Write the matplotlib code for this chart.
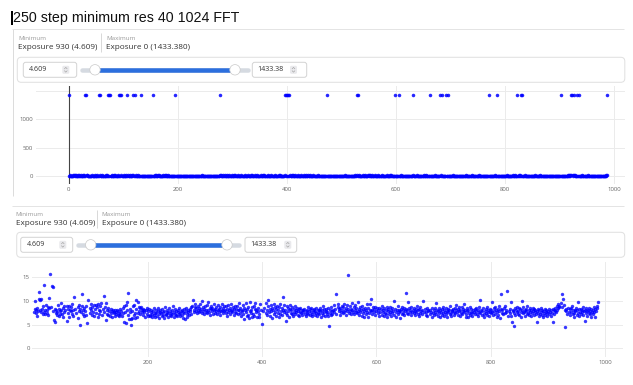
import matplotlib
matplotlib.use('Agg')
import matplotlib.pyplot as plt
import numpy as np
from matplotlib.patches import FancyBboxPatch, Circle, Rectangle

# ---------------- data: exposure values by index (0..988) ----------------
exp_000 = [1433.38, 7.6, 8.3, 9.9, 7.4, 8.1, 6.8, 8.6, 7.9, 11.9,
           10.4, 8.2, 10.3, 10.5, 7.7, 8.4, 7.3, 8.9, 7.6, 13.4,
           8.1, 7.2, 9.1, 8.0, 7.5, 8.7, 7.1, 10.7, 8.5, 15.7,
           1432.9, 8.8, 1433.1, 13.2, 13.0, 7.9, 6.0, 5.5, 8.3, 7.4,
           8.0, 7.0, 7.6, 9.2, 6.9, 8.4, 7.2, 7.8, 9.6, 8.1,
           7.3, 8.6, 6.7, 9.0, 7.7, 1432.7, 8.2, 1433.0, 8.9, 5.8,
           7.5, 8.4, 9.0, 6.6, 8.1, 7.9, 8.8, 7.2, 9.3, 8.0,
           6.8, 10.9, 1432.8, 8.3, 1433.2, 7.4, 1432.6, 8.7, 6.5, 7.9,
           9.2, 4.9, 8.4, 7.6, 8.9, 11.4, 7.3, 8.1, 6.9, 8.5,
           7.8, 9.0, 7.1, 1433.1, 5.3, 1432.9, 10.3, 1432.5, 8.6, 7.4]
exp_100 = [8.2, 9.4, 7.0, 8.8, 7.7, 9.1, 6.9, 8.3, 1433.0, 9.2,
           7.5, 8.7, 6.6, 9.3, 8.0, 7.2, 8.9, 7.8, 9.5, 1432.8,
           7.1, 1433.2, 8.4, 11.0, 7.6, 8.8, 6.0, 9.6, 7.3, 8.2,
           7.0, 8.6, 7.9, 1432.7, 6.8, 8.4, 7.5, 7.9, 6.7, 8.1,
           7.4, 7.7, 6.9, 8.0, 7.6, 7.3, 8.2, 7.1, 7.8, 6.8,
           7.5, 8.3, 7.2, 7.9, 1433.1, 6.9, 8.6, 7.4, 5.6, 8.9,
           7.7, 9.2, 5.4, 8.1, 9.7, 11.7, 7.0, 6.3, 8.4, 7.6,
           6.2, 4.9, 7.8, 6.5, 8.9, 7.1, 9.1, 6.4, 7.5, 10.2,
           8.3, 6.6, 9.8, 7.4, 8.7, 7.9, 8.5, 7.2, 8.8, 8.1,
           7.6, 8.4, 7.0, 8.2, 7.7, 6.7, 1432.9, 8.0, 7.3, 8.6]
exp_200 = [6.9, 7.8, 8.4, 7.1, 6.8, 7.6, 8.2, 7.3, 6.6, 7.9,
           8.5, 7.0, 7.4, 6.7, 8.1, 7.5, 6.9, 7.8, 8.6, 7.2,
           6.5, 7.7, 8.0, 7.4, 6.9, 8.3, 7.6, 7.1, 6.4, 7.9,
           8.8, 7.3, 7.0, 8.2, 7.6, 6.7, 7.4, 8.5, 7.8, 7.1,
           6.8, 7.5, 8.1, 7.2, 8.9, 7.7, 6.6, 7.3, 8.4, 7.9,
           7.0, 6.8, 8.0, 7.6, 7.2, 8.6, 7.4, 6.9, 7.8, 8.2,
           7.1, 6.5, 7.7, 8.3, 7.5, 6.2, 7.9, 8.5, 7.3, 6.7,
           7.6, 8.1, 7.0, 8.4, 7.8, 7.2, 8.7, 8.9, 1433.0, 10.3,
           8.2, 7.6, 8.8, 9.3, 7.9, 8.5, 7.4, 9.0, 8.1, 7.7,
           8.6, 9.4, 7.8, 8.3, 7.5, 10.0, 8.7, 7.9, 8.4, 7.2]
exp_300 = [8.9, 7.6, 8.2, 9.1, 7.4, 8.0, 9.8, 7.7, 8.5, 7.1,
           8.3, 9.0, 7.8, 8.6, 7.3, 8.1, 9.3, 7.5, 8.4, 7.9,
           8.8, 7.2, 8.0, 9.2, 7.6, 8.3, 7.0, 8.7, 7.9, 9.4,
           8.2, 7.4, 8.6, 7.8, 9.0, 8.1, 7.5, 8.9, 6.8, 8.4,
           7.7, 9.1, 8.0, 7.3, 8.5, 9.3, 7.9, 8.2, 7.6, 8.8,
           7.1, 8.4, 9.0, 7.7, 8.3, 7.4, 8.9, 8.0, 7.2, 9.6,
           8.1, 7.5, 8.6, 6.9, 8.2, 7.8, 9.2, 7.3, 8.5, 6.2,
           8.0, 7.6, 9.5, 6.8, 8.3, 7.1, 8.8, 6.5, 7.9, 9.7,
           7.4, 8.1, 6.6, 8.7, 7.2, 9.0, 6.9, 8.4, 9.5, 7.6,
           8.2, 6.7, 7.9, 8.6, 7.3, 6.6, 9.4, 1432.8, 8.0, 1433.1]
exp_400 = [5.1, 1432.6, 7.8, 1433.0, 8.5, 1432.9, 9.6, 7.4, 8.2, 7.0,
           8.9, 10.3, 7.6, 8.4, 6.8, 9.1, 7.9, 8.6, 6.5, 8.0,
           9.3, 7.3, 8.7, 7.7, 6.9, 8.3, 9.0, 7.5, 8.1, 6.6,
           8.8, 7.2, 9.4, 7.8, 8.5, 7.1, 10.8, 8.2, 7.6, 9.2,
           8.0, 5.8, 7.4, 8.9, 7.0, 8.6, 7.8, 6.7, 8.3, 9.1,
           7.5, 8.0, 7.2, 8.7, 6.9, 8.4, 7.7, 8.9, 7.3, 8.1,
           7.6, 8.5, 7.0, 7.9, 8.3, 6.8, 7.7, 8.6, 7.4, 8.0,
           7.1, 8.2, 7.6, 1433.2, 8.4, 7.3, 7.8, 6.9, 8.1, 7.5,
           8.7, 7.2, 7.9, 8.3, 7.0, 7.6, 8.5, 7.3, 6.8, 8.0,
           7.7, 8.4, 7.1, 7.8, 8.6, 7.4, 6.9, 8.2, 7.5, 8.0]
exp_500 = [7.3, 8.5, 7.8, 6.7, 8.1, 7.4, 8.9, 7.0, 7.6, 8.3,
           6.8, 7.9, 8.4, 7.2, 7.7, 8.6, 6.9, 4.7, 7.5, 8.2,
           7.1, 8.8, 7.8, 7.3, 8.0, 9.1, 7.6, 8.4, 1433.0, 11.4,
           7.2, 1432.7, 8.7, 9.4, 7.9, 8.3, 7.0, 8.6, 7.7, 9.0,
           8.1, 7.4, 8.8, 7.6, 9.3, 8.2, 7.1, 8.5, 7.8, 9.1,
           15.5, 8.4, 7.5, 8.9, 7.9, 8.3, 7.2, 9.5, 8.0, 7.6,
           8.7, 7.3, 9.2, 8.1, 7.7, 8.6, 7.4, 9.8, 7.9, 8.4,
           7.0, 8.8, 7.6, 8.2, 6.9, 9.0, 7.5, 8.3, 7.8, 6.6,
           8.5, 7.2, 8.0, 9.3, 7.7, 6.7, 8.6, 7.4, 8.1, 9.4,
           7.9, 10.4, 8.2, 7.3, 8.7, 7.6, 8.3, 7.1, 8.8, 1433.1]
exp_600 = [7.8, 8.5, 7.4, 8.1, 6.9, 8.6, 1432.8, 7.6, 8.3, 7.0,
           8.9, 7.7, 8.2, 6.8, 8.6, 7.5, 8.0, 7.2, 8.7, 6.6,
           7.9, 8.4, 7.3, 8.8, 7.7, 6.9, 8.2, 7.4, 8.5, 7.8,
           7.1, 9.9, 1433.0, 8.3, 7.6, 6.7, 8.0, 7.3, 8.9, 7.7,
           8.2, 6.5, 7.9, 8.4, 7.2, 8.7, 7.5, 8.1, 7.0, 8.6,
           7.8, 8.3, 11.6, 7.4, 8.0, 9.7, 7.3, 8.5, 7.6, 8.2,
           7.0, 8.8, 7.7, 1432.9, 8.1, 7.4, 8.6, 7.9, 7.1, 8.4,
           7.6, 8.9, 7.3, 8.0, 6.8, 8.3, 7.5, 8.7, 7.8, 7.2,
           8.1, 1433.1, 9.9, 7.6, 1432.7, 8.4, 7.0, 7.7, 8.5, 6.9,
           7.9, 8.2, 1433.0, 7.3, 8.0, 1432.8, 7.6, 8.6, 6.7, 7.4]
exp_700 = [8.1, 7.0, 7.7, 8.5, 9.5, 7.3, 8.2, 6.8, 7.9, 8.6,
           7.4, 8.0, 6.6, 7.6, 8.3, 7.1, 8.8, 7.5, 6.9, 8.2,
           7.7, 8.5, 7.2, 7.9, 6.7, 8.4, 7.6, 8.0, 7.3, 8.9,
           7.5, 6.8, 8.1, 7.8, 8.4, 7.0, 7.7, 8.6, 7.4, 8.2,
           9.1, 7.6, 8.3, 7.1, 8.7, 7.9, 6.9, 8.0, 7.5, 8.8,
           7.2, 8.4, 7.8, 9.4, 7.6, 8.1, 6.6, 7.3, 8.5, 7.9,
           6.7, 8.2, 7.4, 8.7, 7.0, 7.7, 8.3, 7.5, 6.8, 8.0,
           7.6, 1433.2, 8.4, 7.2, 7.9, 8.6, 7.3, 6.9, 8.1, 7.7,
           8.8, 7.4, 10.2, 8.0, 7.1, 7.8, 1432.9, 8.5, 7.2, 6.6,
           7.9, 8.3, 7.5, 7.0, 8.7, 7.7, 8.2, 6.8, 7.6, 8.4]
exp_800 = [7.4, 8.1, 7.7, 9.7, 7.0, 8.5, 7.9, 8.8, 7.3, 8.2,
           6.7, 7.6, 8.4, 7.1, 8.9, 7.8, 6.5, 8.3, 11.5, 7.5,
           8.0, 7.2, 1433.0, 8.6, 7.4, 9.0, 7.7, 8.1, 12.1, 1432.8,
           6.8, 1433.1, 7.9, 8.3, 7.5, 6.9, 9.8, 5.5, 7.8, 8.2,
           4.7, 7.4, 8.6, 7.1, 8.0, 7.6, 8.8, 7.2, 7.9, 8.5,
           7.0, 8.3, 7.7, 6.6, 8.1, 10.0, 7.4, 8.7, 7.6, 8.2,
           6.9, 7.8, 8.4, 7.3, 8.9, 7.5, 8.0, 7.1, 8.6, 7.7,
           6.8, 8.2, 7.4, 8.5, 7.9, 7.0, 8.3, 7.6, 8.1, 7.2,
           5.6, 7.8, 8.4, 7.5, 6.9, 8.0, 7.3, 8.6, 7.7, 7.1,
           8.2, 7.9, 6.7, 7.5, 8.3, 7.0, 7.6, 8.1, 6.8, 7.4]
exp_900 = [7.9, 8.3, 7.2, 1432.7, 7.7, 8.0, 6.9, 7.5, 8.4, 5.6,
           7.3, 8.1, 7.8, 8.6, 7.6, 8.9, 8.2, 9.3, 8.5, 9.0,
           8.7, 1433.0, 9.6, 1432.9, 8.8, 11.4, 1433.2, 10.4, 9.2, 8.1,
           4.609, 7.9, 8.4, 1432.8, 7.3, 8.6, 1433.1, 7.7, 8.3, 7.0,
           8.5, 7.6, 8.9, 7.2, 8.0, 7.4, 6.7, 8.2, 7.8, 8.6,
           7.1, 8.0, 9.8, 7.5, 8.3, 6.9, 7.7, 8.4, 7.3, 8.1,
           7.6, 8.7, 7.0, 7.9, 8.2, 5.8, 7.4, 8.5, 7.8, 6.8,
           8.0, 7.5, 8.6, 7.2, 7.9, 8.3, 6.7, 7.6, 8.1, 7.3,
           8.8, 7.7, 6.6, 8.4, 7.9, 8.6, 9.0, 9.7, 1432.6]

top_xticks = [0, 200, 400, 600, 800, 1000]
top_yticks = [0, 500, 1000]
bot_xticks = [200, 400, 600, 800, 1000]
bot_yticks = [0, 5, 10, 15]
title_text = "250 step minimum res 40 1024 FFT"
min_label = "Exposure 930 (4.609)"
max_label = "Exposure 0 (1433.380)"
min_input = "4.609"
max_input = "1433.38"
bottom_cutoff = 100  # lower chart omits the ~1433 outliers

values = np.array(exp_000 + exp_100 + exp_200 + exp_300 + exp_400 +
                  exp_500 + exp_600 + exp_700 + exp_800 + exp_900)
index = np.arange(len(values))
keep = values < bottom_cutoff

# ---------------- figure / overlay in pixel coordinates ----------------
W, H = 633, 385
PX = 0.72
UI = 'Open Sans'
fig = plt.figure(figsize=(W / 100, H / 100), dpi=100)
fig.patch.set_facecolor('white')
ov = fig.add_axes([0, 0, 1, 1], zorder=0)
ov.set_xlim(0, W)
ov.set_ylim(H, 0)
ov.axis('off')


def hline(x1, x2, y, c, lw=1.0):
    ov.plot([x1, x2], [y, y], color=c, lw=lw * PX, solid_capstyle='butt')


def vline(x, y1, y2, c, lw=1.0):
    ov.plot([x, x], [y1, y2], color=c, lw=lw * PX, solid_capstyle='butt')


def rbox(x, y, w, h, r, ec, lw=1.0, fc='white'):
    ov.add_patch(FancyBboxPatch((x, y), w, h, boxstyle=f"round,pad=0,rounding_size={r}",
                                ec=ec, fc=fc, lw=lw * PX))


def spinner(x, y):
    ov.add_patch(FancyBboxPatch((x, y - 4), 7, 8, boxstyle="round,pad=0,rounding_size=1.5",
                                ec='none', fc='#e9e9ec'))
    ov.plot([x + 2.2, x + 3.5, x + 4.8], [y - 1, y - 2.4, y - 1], color='#9a9a9a', lw=0.4)
    ov.plot([x + 2.2, x + 3.5, x + 4.8], [y + 1, y + 2.4, y + 1], color='#9a9a9a', lw=0.4)


def panel(top_line_y, lab_x, sep_x, max_x, lab_y1, lab_y2, sep_y1, sep_y2,
          cont, in1, in1_text_x, spin1_x, trk, blue, in2, in2_text_x, spin2_x):
    hline(12, 624, top_line_y, '#e4e4e4')
    ov.text(lab_x, lab_y1, 'Minimum', fontsize=4.5, color='#9b9b9b', family=UI, va='center')
    ov.text(lab_x, lab_y2, min_label, fontsize=5.9, color='#333333', family=UI, va='center')
    vline(sep_x, sep_y1, sep_y2, '#d9d9d9')
    ov.text(max_x, lab_y1, 'Maximum', fontsize=4.5, color='#9b9b9b', family=UI, va='center')
    ov.text(max_x, lab_y2, max_label, fontsize=5.9, color='#333333', family=UI, va='center')
    cx, cy, cw, ch = cont
    rbox(cx, cy, cw, ch, 4, '#e0e0e0')
    yc = cy + ch / 2
    x, w = in1
    rbox(x, yc - 7.5, w, 15, 2.5, '#d4d4d4')
    ov.text(in1_text_x, yc, min_input, fontsize=5.1, color='#333333', family=UI, va='center')
    spinner(spin1_x, yc)
    x, w = in2
    rbox(x, yc - 7.5, w, 15, 2.5, '#d4d4d4')
    ov.text(in2_text_x, yc, max_input, fontsize=5.1, color='#333333', family=UI, va='center')
    spinner(spin2_x, yc)
    ov.plot(trk, [yc, yc], color='#d5dae1', lw=4.5 * PX, solid_capstyle='round')
    ov.plot(blue, [yc, yc], color='#2c6fde', lw=4.5 * PX, solid_capstyle='butt')
    for hx in blue:
        ov.add_patch(Circle((hx, yc), 5.2, fc='white', ec='#c9c9c9', lw=0.5, zorder=5))


# title with text cursor
ov.add_patch(Rectangle((10.6, 10.5), 1.9, 14.5, fc='black', ec='none'))
ov.text(13.2, 22.2, title_text, fontsize=10.3, family='Liberation Sans',
        color='#111111', va='baseline')

# top panel
vline(12.7, 29.3, 196, '#dcdcdc')
panel(29.3, 18.3, 101, 106, 38.3, 47.5, 33, 52,
      (17.3, 57.3, 607.5, 25), (23.3, 53.4), 29.3, 62.3,
      [81.7, 248.3], [95, 235], (252.3, 54.4), 257.3, 290)
# bottom panel
panel(205.7, 15.7, 97.3, 101.7, 214, 223.2, 210, 227.7,
      (16.7, 232.3, 608, 25), (20.7, 52), 26.7, 59.3,
      [77.7, 239.3], [90.7, 227], (245, 51.7), 250, 284.3)


def add_ax(l, t, r, b):
    ax = fig.add_axes([l / W, 1 - b / H, (r - l) / W, (b - t) / H], zorder=2)
    ax.patch.set_alpha(0)
    for s in ax.spines.values():
        s.set_visible(False)
    return ax


def style_ticks(ax, xpad, ypad):
    ax.tick_params(length=0, labelsize=4.3, labelcolor='#666666')
    ax.tick_params(axis='x', pad=xpad)
    ax.tick_params(axis='y', pad=ypad)
    for lab in ax.get_xticklabels() + ax.get_yticklabels():
        lab.set_family(UI)


# ---------------- top chart (all exposures) ----------------
ax1 = add_ax(36, 86, 625, 184)
ax1.set_xlim(-59.6, 1020.2)
ax1.set_ylim(-140.8, 1584.5)
ax1.set_xticks(top_xticks)
ax1.set_yticks(top_yticks)
ax1.set_yticks([1500], minor=True)
ax1.tick_params(which='minor', length=0, labelleft=False)
ax1.grid(True, which='both', color='#ebebeb', lw=0.7)
ax1.set_axisbelow(True)
ax1.axvline(0, color='#444444', lw=0.8, zorder=1)
ax1.scatter(index, values, s=6.5, color='#0000ff', alpha=0.85, linewidths=0, zorder=3)
style_ticks(ax1, 2.4, 2.2)

# ---------------- bottom chart (outliers removed) ----------------
ax2 = add_ax(32, 262, 623, 357)
ax2.set_xlim(-2.6, 1031.3)
ax2.set_ylim(-1.84, 18.25)
ax2.set_xticks(bot_xticks)
ax2.set_yticks(bot_yticks)
ax2.grid(True, color='#ebebeb', lw=0.7)
ax2.set_axisbelow(True)
ax2.scatter(index[keep], values[keep], s=6.0, color='#0000ff', alpha=0.78, linewidths=0, zorder=3)
style_ticks(ax2, 2.0, 1.6)

fig.savefig('out.png', dpi=100, facecolor='white')
